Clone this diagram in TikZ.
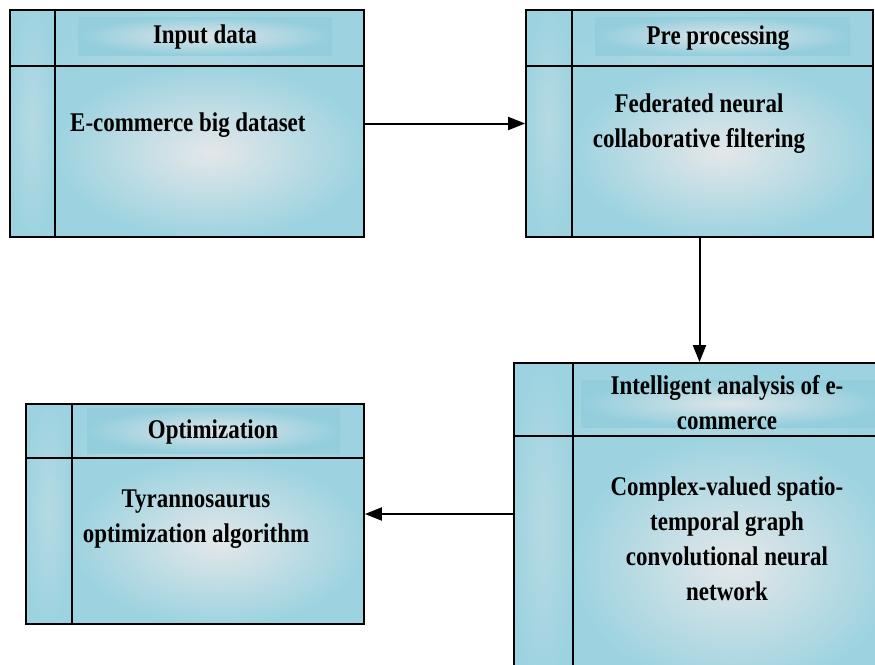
\documentclass[tikz,border=0pt]{standalone}
\usepackage{fontspec}
\setmainfont{Liberation Serif}[FakeStretch=0.85]
\usetikzlibrary{arrows.meta,backgrounds}

\definecolor{panelblue}{RGB}{157,211,224}
\definecolor{bandblue}{RGB}{148,206,221}
\definecolor{panelglow}{RGB}{228,231,233}

\tikzset{
  panel/.style={draw=black, line width=1.8pt, inner sep=0pt},
  basefill/.style={outer color=panelblue, inner color=panelblue!55!panelglow},
  bodyfill/.style={outer color=panelblue, inner color=panelglow},
  bandfill/.style={outer color=bandblue, inner color=panelglow!90!panelblue},
  stripfill/.style={outer color=panelblue, inner color=panelblue!65!panelglow},
  divider/.style={black, line width=1.8pt},
  label/.style={font=\fontsize{27}{35}\selectfont\bfseries, align=center, inner sep=0pt},
  flow/.style={black, line width=2pt, -{Triangle[length=17pt,width=13pt]}}
}

\begin{document}
\begin{tikzpicture}[x=1pt, y=-1pt]
\useasboundingbox (0,0) rectangle (875,664);
\clip (0,0) rectangle (875,664);

% boxes
\node[panel, minimum width=354pt, minimum height=227pt] (b1) at (187,123.5) {};
\node[panel, minimum width=347pt, minimum height=227pt] (b2) at (699.5,123.5) {};
\node[panel, minimum width=381pt, minimum height=327pt] (b3) at (704.5,526.5) {};
\node[panel, minimum width=338pt, minimum height=220pt] (b4) at (195,514) {};

\begin{scope}[on background layer]
% input data
\fill[basefill] (b1.north west) rectangle (b1.south east);
\fill[stripfill] (b1.north west) rectangle ([xshift=46pt]b1.south west);
\fill[bodyfill] ([xshift=46pt,yshift=-57pt]b1.north west) rectangle (b1.south east);
\fill[bandfill] (78,17) rectangle (332,55);
% pre processing
\fill[basefill] (b2.north west) rectangle (b2.south east);
\fill[stripfill] (b2.north west) rectangle ([xshift=47pt]b2.south west);
\fill[bodyfill] ([xshift=47pt,yshift=-57pt]b2.north west) rectangle (b2.south east);
\fill[bandfill] (595,17) rectangle (850,55);
% intelligent analysis
\fill[basefill] (b3.north west) rectangle (b3.south east);
\fill[stripfill] (b3.north west) rectangle ([xshift=60pt]b3.south west);
\fill[bodyfill] ([xshift=60pt,yshift=-74pt]b3.north west) rectangle (b3.south east);
\fill[bandfill] (581,380) rectangle (880,427);
% optimization
\fill[basefill] (b4.north west) rectangle (b4.south east);
\fill[stripfill] (b4.north west) rectangle ([xshift=47pt]b4.south west);
\fill[bodyfill] ([xshift=47pt,yshift=-55pt]b4.north west) rectangle (b4.south east);
\fill[bandfill] (87,408) rectangle (340,453);
\end{scope}

% dividers
\draw[divider] ([xshift=46pt]b1.north west) -- ([xshift=46pt]b1.south west);
\draw[divider] ([yshift=-57pt]b1.north west) -- ([yshift=-57pt]b1.north east);
\draw[divider] ([xshift=47pt]b2.north west) -- ([xshift=47pt]b2.south west);
\draw[divider] ([yshift=-57pt]b2.north west) -- ([yshift=-57pt]b2.north east);
\draw[divider] ([xshift=60pt]b3.north west) -- ([xshift=60pt]b3.south west);
\draw[divider] ([yshift=-74pt]b3.north west) -- ([yshift=-74pt]b3.north east);
\draw[divider] ([xshift=47pt]b4.north west) -- ([xshift=47pt]b4.south west);
\draw[divider] ([yshift=-55pt]b4.north west) -- ([yshift=-55pt]b4.north east);

% texts
\node[label] (t1) at (205,37) {Input data};
\node[label, anchor=west] (d1) at (70,125) {E-commerce big dataset};
\node[label] (t2) at (718,38) {Pre processing};
\node[label] (d2) at (699,124) {Federated neural\\collaborative filtering};
\node[label] (t3) at (727,403) {Intelligent analysis of e-\\commerce};
\node[label] (d3) at (727,539) {Complex-valued spatio-\\temporal graph\\convolutional neural\\network};
\node[label] (t4) at (213,432) {Optimization};
\node[label] (d4) at (196,519) {Tyrannosaurus\\optimization algorithm};

% arrows
\draw[flow] (b1) -- (b2);
\draw[flow] (b2.south) -- (b2.south |- b3.north);
\draw[flow] (b3.west |- b4.east) -- (b4.east);

\end{tikzpicture}
\end{document}
